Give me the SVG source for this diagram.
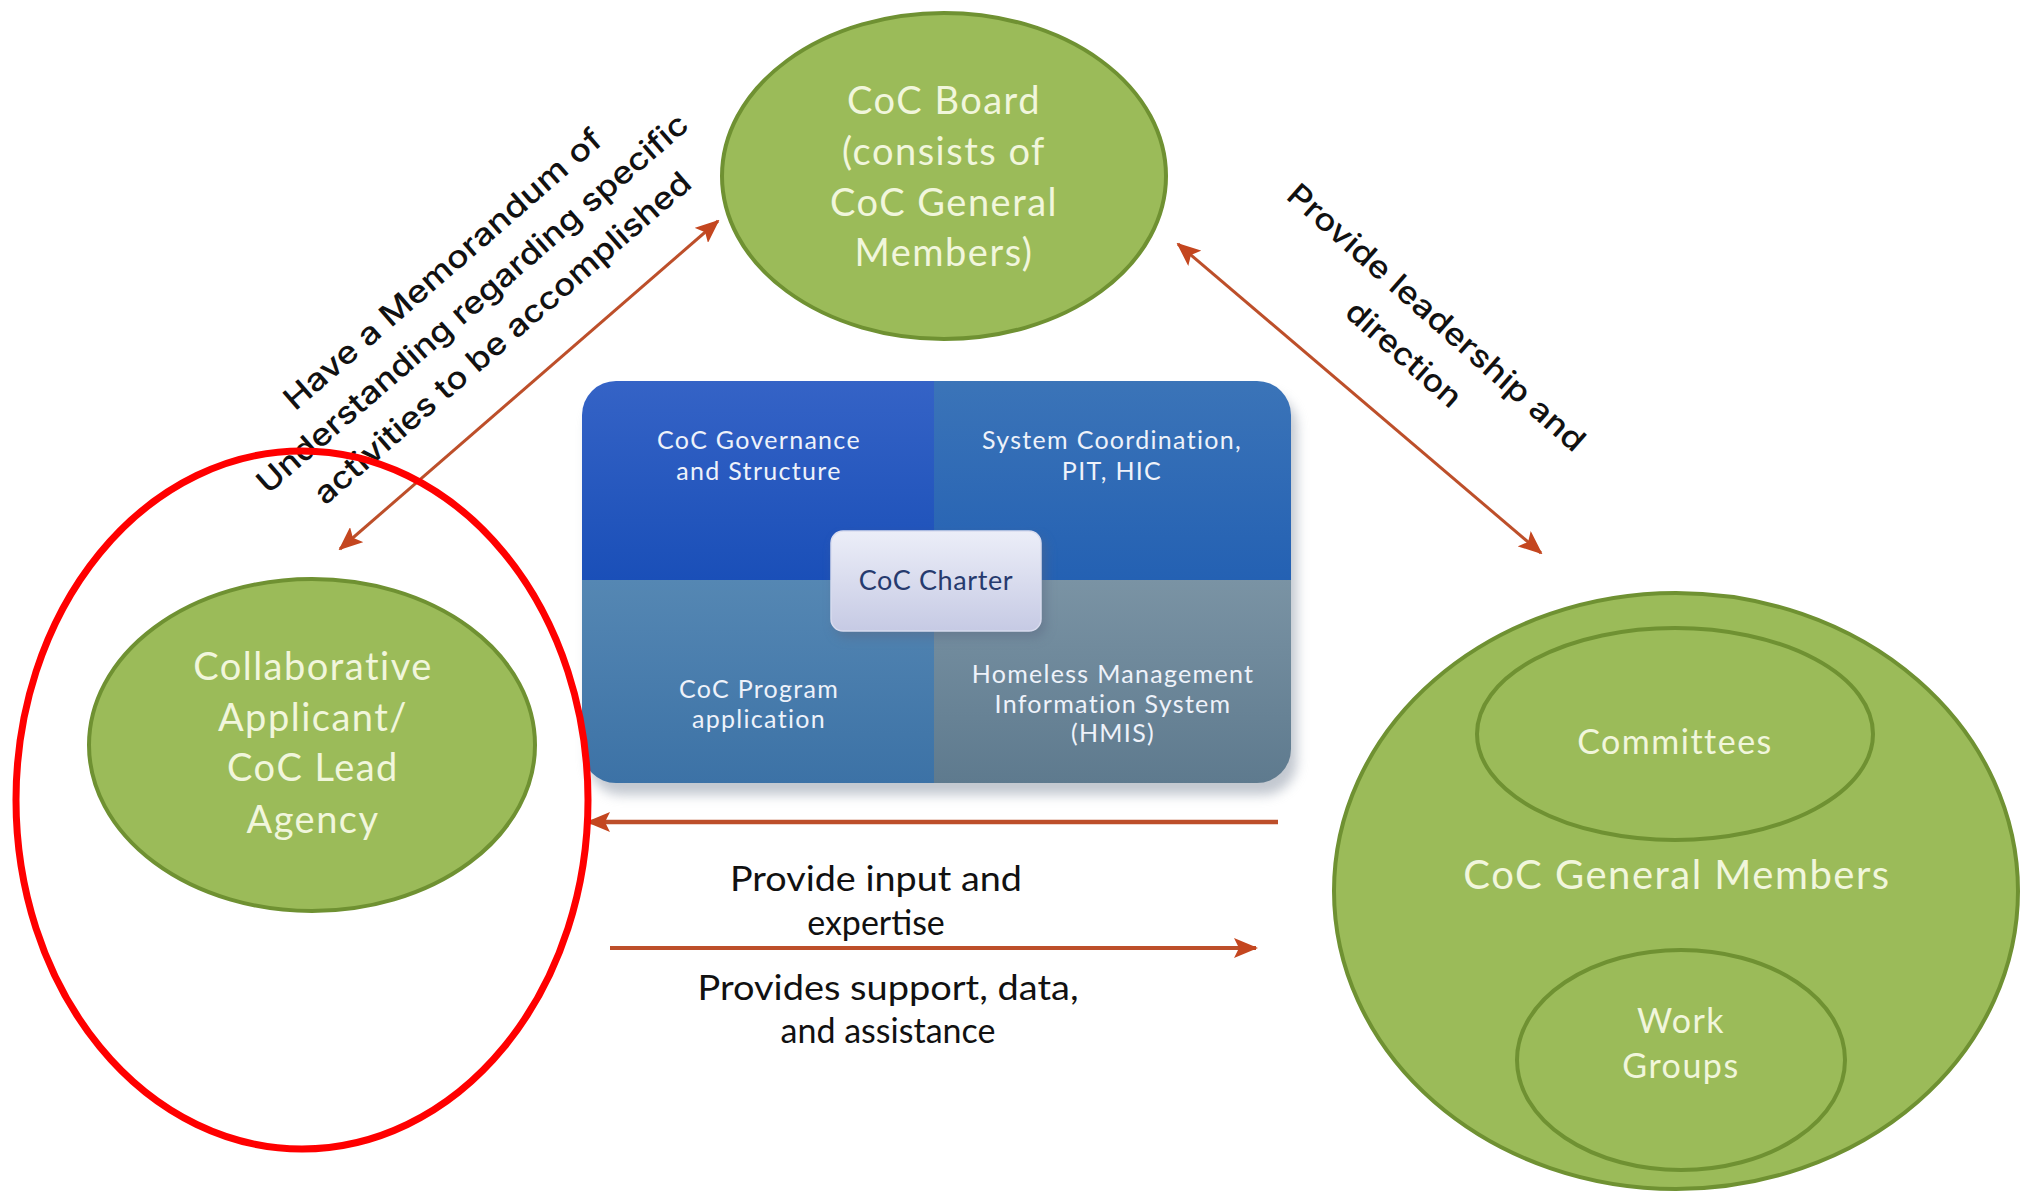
<svg xmlns="http://www.w3.org/2000/svg" width="2020" height="1191" viewBox="0 0 2020 1191">
<defs>
<style>
.green{fill:#9bbb59;stroke:#6f9132;stroke-width:4}
.inner{fill:none;stroke:#6f9132;stroke-width:4}
.gt{font-family:Lato,"Open Sans",sans-serif;font-weight:400;fill:#f1f6dc;text-anchor:middle;letter-spacing:1.5px}
.qt{font-family:Lato,"Open Sans",sans-serif;font-size:25px;fill:#eef2fa;text-anchor:middle;letter-spacing:1.3px}
.lbl{font-family:Inter,"Liberation Sans",sans-serif;font-weight:500;font-size:31px;fill:#111;text-anchor:middle}
.lb2{font-family:Lato,"Open Sans",sans-serif;font-size:34px;fill:#111;text-anchor:middle}
.arr{stroke:#bd4f2a;fill:none}
</style>
<marker id="ah" viewBox="0 0 24 20" markerWidth="24" markerHeight="20" refX="22" refY="10" orient="auto-start-reverse" markerUnits="userSpaceOnUse">
<path d="M0,0 L24,10 L0,20 L5,10 z" fill="#c4461f"/>
</marker>
<linearGradient id="gTL" x1="0" y1="0" x2="0" y2="1"><stop offset="0" stop-color="#3563c6"/><stop offset="1" stop-color="#1a4fb8"/></linearGradient>
<linearGradient id="gTR" x1="0" y1="0" x2="0" y2="1"><stop offset="0" stop-color="#3b74b8"/><stop offset="1" stop-color="#2461b3"/></linearGradient>
<linearGradient id="gBL" x1="0" y1="0" x2="0" y2="1"><stop offset="0" stop-color="#5587b3"/><stop offset="1" stop-color="#3c72a6"/></linearGradient>
<linearGradient id="gBR" x1="0" y1="0" x2="0" y2="1"><stop offset="0" stop-color="#7a93a4"/><stop offset="1" stop-color="#5e7a8e"/></linearGradient>
<linearGradient id="gCh" x1="0" y1="0" x2="0" y2="1"><stop offset="0" stop-color="#eceef8"/><stop offset="1" stop-color="#c6cae4"/></linearGradient>
<clipPath id="boxclip"><rect x="582" y="381" width="709" height="402" rx="34"/></clipPath>
<filter id="sh" x="-10%" y="-10%" width="120%" height="130%"><feGaussianBlur stdDeviation="6"/></filter>
</defs>
<rect width="2020" height="1191" fill="#fff"/>

<g id="connectors">
<line class="arr" x1="718" y1="221" x2="340" y2="549" stroke-width="3" marker-start="url(#ah)" marker-end="url(#ah)"/>
<line class="arr" x1="1178" y1="244" x2="1541" y2="553" stroke-width="3" marker-start="url(#ah)" marker-end="url(#ah)"/>
<line class="arr" x1="1278" y1="822" x2="588" y2="822" stroke-width="4.5" marker-end="url(#ah)"/>
<line class="arr" x1="610" y1="948" x2="1256" y2="948" stroke-width="4" marker-end="url(#ah)"/>
<g id="lbl-mou" transform="translate(472,303) rotate(-41)">
<text class="lbl" x="0" y="-34" textLength="410" lengthAdjust="spacingAndGlyphs">Have a Memorandum of</text>
<text class="lbl" x="0" y="11" textLength="560" lengthAdjust="spacingAndGlyphs">Understanding regarding specific</text>
<text class="lbl" x="0" y="57" textLength="488" lengthAdjust="spacingAndGlyphs">activities to be accomplished</text>
</g>
<g id="lbl-lead" transform="translate(1420,336) rotate(41.5)">
<text class="lbl" x="0" y="-14" textLength="386" lengthAdjust="spacingAndGlyphs">Provide leadership and</text>
<text class="lbl" x="0" y="35" textLength="143" lengthAdjust="spacingAndGlyphs">direction</text>
</g>
<g id="lbl-input">
<text class="lb2" x="876" y="891" textLength="292" lengthAdjust="spacingAndGlyphs">Provide input and</text>
<text class="lb2" x="876" y="935">expertise</text>
</g>
<g id="lbl-support">
<text class="lb2" x="888" y="1000" textLength="381" lengthAdjust="spacingAndGlyphs">Provides support, data,</text>
<text class="lb2" x="888" y="1043">and assistance</text>
</g>
</g>

<g id="node-board">
<ellipse class="green" cx="944" cy="176" rx="222" ry="163"/>
<text class="gt" font-size="38" x="944" y="114">CoC Board</text>
<text class="gt" font-size="38" x="944" y="165">(consists of</text>
<text class="gt" font-size="38" x="944" y="216">CoC General</text>
<text class="gt" font-size="38" x="944" y="266">Members)</text>
</g>

<g id="node-lead">
<ellipse class="green" cx="312" cy="745" rx="223" ry="166"/>
<text class="gt" font-size="38" x="313" y="680">Collaborative</text>
<text class="gt" font-size="38" x="313" y="731">Applicant/</text>
<text class="gt" font-size="38" x="313" y="781">CoC Lead</text>
<text class="gt" font-size="38" x="313" y="833">Agency</text>
</g>

<g id="node-charter-box">
<rect x="588" y="393" width="709" height="402" rx="34" fill="#9aa3b0" filter="url(#sh)" opacity="0.6"/>
<g clip-path="url(#boxclip)">
<rect x="582" y="381" width="352" height="199" fill="url(#gTL)"/>
<rect x="934" y="381" width="357" height="199" fill="url(#gTR)"/>
<rect x="582" y="580" width="352" height="203" fill="url(#gBL)"/>
<rect x="934" y="580" width="357" height="203" fill="url(#gBR)"/>
</g>
<text class="qt" x="759" y="449">CoC Governance</text>
<text class="qt" x="759" y="480">and Structure</text>
<text class="qt" x="1112" y="449">System Coordination,</text>
<text class="qt" x="1112" y="480">PIT, HIC</text>
<text class="qt" x="759" y="698">CoC Program</text>
<text class="qt" x="759" y="728">application</text>
<text class="qt" x="1113" y="683">Homeless Management</text>
<text class="qt" x="1113" y="713">Information System</text>
<text class="qt" x="1113" y="742">(HMIS)</text>
</g>

<g id="node-charter">
<rect x="835" y="537" width="210" height="100" rx="12" fill="#5a6680" filter="url(#sh)" opacity="0.5"/>
<rect x="831" y="531" width="210" height="100" rx="12" fill="url(#gCh)" stroke="#d8dbee" stroke-width="1.5"/>
<text x="936" y="590" font-family="Lato,'Open Sans',sans-serif" font-size="27" fill="#263a6e" text-anchor="middle" letter-spacing="0.6">CoC Charter</text>
</g>

<g id="node-members">
<ellipse class="green" cx="1676" cy="891" rx="342" ry="298"/>
<text class="gt" font-size="40" x="1677" y="889">CoC General Members</text>
</g>
<g id="node-committees">
<ellipse class="inner" cx="1675" cy="734" rx="198" ry="106"/>
<text class="gt" font-size="34" x="1675" y="754">Committees</text>
</g>
<g id="node-workgroups">
<ellipse class="inner" cx="1681" cy="1060" rx="164" ry="110"/>
<text class="gt" font-size="34" x="1681" y="1033">Work</text>
<text class="gt" font-size="34" x="1681" y="1078">Groups</text>
</g>

<g id="highlight">
<ellipse cx="302" cy="800" rx="286" ry="349" fill="none" stroke="#ff0000" stroke-width="7"/>
</g>
</svg>
